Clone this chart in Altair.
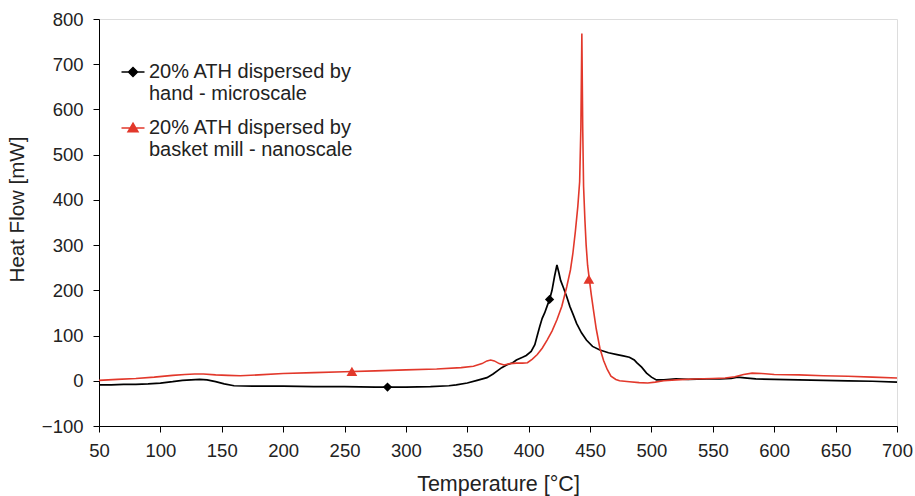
import altair as alt
import pandas as pd

# --- data ---
black_x = [50, 60, 70, 80, 90, 100, 110, 118, 125, 132, 138, 145, 152, 160, 175, 200, 225, 250, 275,
           300, 320, 335, 341, 350, 358, 366, 371, 375, 378, 382, 387, 390, 395, 398, 402, 405, 407,
           409, 411, 413, 415, 417, 419, 421, 423, 424.5, 426, 428, 431, 433.6, 436, 439, 443, 447,
           452, 458, 465, 472, 477, 482, 486, 488, 492, 496, 500, 504, 510, 520, 530, 545, 556, 565,
           570, 578, 585, 600, 620, 640, 660, 680, 700]
black_y = [-9, -9, -8, -8, -7, -5, -2, 1, 2, 3, 2, -2, -7, -11, -12, -12, -13, -13, -14,
           -14, -13, -11, -9, -5, 1, 7, 15, 23, 29, 35, 40, 46, 52, 56, 65, 80, 100,
           120, 138, 150, 165, 180, 200, 230, 256, 240, 222, 208, 186, 164, 148, 127, 106, 90,
           76, 68, 62, 58, 55, 52, 46, 40, 30, 17, 8, 2, 2, 4, 3, 4, 4, 5,
           8, 6, 4, 3, 2, 1, 0, -1, -3]

red_x = [50, 65, 80, 95, 110, 120, 128, 135, 145, 155, 165, 180, 200, 225, 250, 275, 300, 325,
         345, 355, 362, 366, 369, 372, 376, 380, 385, 390, 395, 399, 403, 407, 411, 415, 419, 423,
         427, 431, 434, 436, 438, 440, 441.5, 442.5, 443.3, 444, 444.7, 445.8, 446.8, 448, 449.5,
         451, 453, 455, 458, 461, 464, 467, 471, 474, 478, 482, 490, 497, 503, 510, 520, 535, 550,
         560, 568, 575, 582, 590, 600, 620, 640, 660, 680, 700]
red_y = [1, 3, 5, 8, 12, 14, 15, 15, 13, 12, 11, 13, 16, 18, 20, 22, 24, 26,
         29, 32, 38, 44, 46, 44, 38, 35, 38, 39, 39, 40, 48, 58, 72, 90, 110, 135,
         165, 208, 245, 282, 330, 385, 440, 560, 768, 560, 430, 355, 300, 255, 222,
         190, 152, 115, 72, 45, 25, 10, 3, 0, -1, -2, -4, -5, -3, 0, 2, 4, 5,
         6, 9, 14, 17, 16, 14, 13, 11, 10, 8, 6]

black_marker_x = [285, 417]
black_marker_y = [-14, 180]
red_marker_x = [256, 449]
red_marker_y = [21, 225]

series_names = ["20% ATH dispersed by|hand - microscale",
                "20% ATH dispersed by|basket mill - nanoscale"]
series_colors = ["#000000", "#e2382b"]

x_ticks = list(range(50, 701, 50))
y_ticks = list(range(-100, 801, 100))

black_df = pd.DataFrame({"t": black_x, "hf": black_y})
red_df = pd.DataFrame({"t": red_x, "hf": red_y})
bm_df = pd.DataFrame({"t": black_marker_x, "hf": black_marker_y})
rm_df = pd.DataFrame({"t": red_marker_x, "hf": red_marker_y})
leg_df = pd.DataFrame({"t": black_marker_x + red_marker_x,
                       "hf": black_marker_y + red_marker_y,
                       "series": [series_names[0]] * 2 + [series_names[1]] * 2})

FONT = "Liberation Sans"

xs = alt.Scale(domain=[50, 700], nice=False, zero=False)
ys = alt.Scale(domain=[-100, 800], nice=False, zero=False)

x_axis = alt.Axis(values=x_ticks, title="Temperature [°C]", grid=False, tickSize=6,
                  labelFontSize=18.5, titleFontSize=21.5, labelPadding=9, titlePadding=14,
                  domainColor="black", tickColor="black", labelColor="#222", titleColor="#222",
                  titleFontWeight="normal", labelFont=FONT, titleFont=FONT, labelFlush=False)
y_axis = alt.Axis(values=y_ticks, title="Heat Flow [mW]", grid=False, tickSize=6,
                  labelFontSize=18.5, titleFontSize=20.5, labelPadding=10, titlePadding=14,
                  domainColor="black", tickColor="black", labelColor="#222", titleColor="#222",
                  titleFontWeight="normal", labelFont=FONT, titleFont=FONT, labelFlush=False,
                  titleY=190)

x_enc = alt.X("t:Q", scale=xs, axis=x_axis)
y_enc = alt.Y("hf:Q", scale=ys, axis=y_axis)

black_line = alt.Chart(black_df).mark_line(color=series_colors[0], strokeWidth=1.7).encode(
    x=x_enc, y=y_enc)
red_line = alt.Chart(red_df).mark_line(color=series_colors[1], strokeWidth=1.6).encode(
    x="t:Q", y="hf:Q")
black_pts = alt.Chart(bm_df).mark_point(shape="diamond", filled=True, size=85, opacity=1,
                                        color=series_colors[0]).encode(x="t:Q", y="hf:Q")
red_pts = alt.Chart(rm_df).mark_point(shape="triangle-up", filled=True, size=115, opacity=1,
                                      color=series_colors[1]).encode(x="t:Q", y="hf:Q")

sym_black = "M-2.3,0H2.3M0,-0.9L0.9,0L0,0.9L-0.9,0Z"
sym_red = "M-2.3,0H2.3M0,-0.95L1,0.75L-1,0.75Z"

legend = alt.Legend(orient="none", legendX=24, legendY=43, title=None,
                    labelExpr="split(datum.label, '|')", labelFontSize=20, labelFont=FONT,
                    labelColor="#222", labelBaseline="middle",
                    labelOffset=6, rowPadding=14, symbolSize=100, symbolStrokeWidth=1.5,
                    symbolOpacity=1, padding=0, labelLimit=400)

legend_layer = alt.Chart(leg_df).mark_point(filled=True, opacity=0).encode(
    x="t:Q", y="hf:Q",
    fill=alt.Fill("series:N", scale=alt.Scale(domain=series_names, range=series_colors),
                  legend=legend),
    stroke=alt.Stroke("series:N", scale=alt.Scale(domain=series_names, range=series_colors),
                      legend=legend),
    shape=alt.Shape("series:N", scale=alt.Scale(domain=series_names, range=[sym_black, sym_red]),
                    legend=legend),
)

chart = alt.layer(black_line, red_line, black_pts, red_pts, legend_layer).properties(
    width=798, height=407,
    autosize=alt.AutoSizeParams(type="none"),
    padding={"left": 99, "top": 19, "right": 18, "bottom": 70},
).configure_view(stroke="#888", strokeWidth=1).configure(background="white")

chart.save("out.html", embed_options={"renderer": "svg", "actions": False})
